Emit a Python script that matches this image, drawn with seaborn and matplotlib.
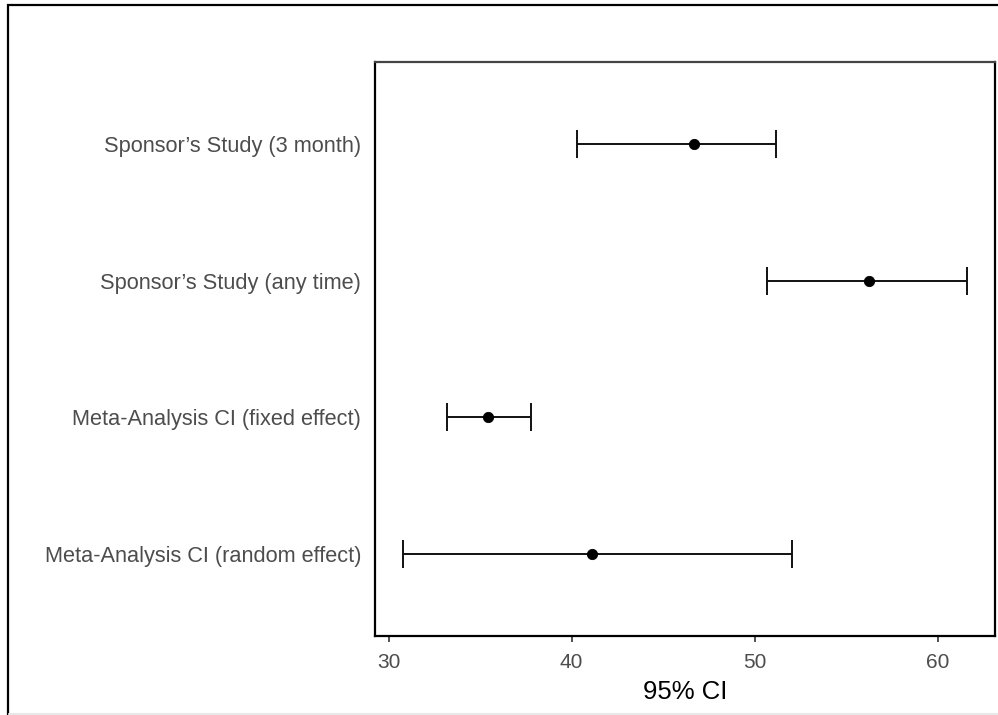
import numpy as np
import pandas as pd
import matplotlib.pyplot as plt
import seaborn as sns
from matplotlib.patches import Rectangle
from matplotlib.lines import Line2D

sns.set_style("white")
plt.rcParams['font.family'] = ['Liberation Sans', 'DejaVu Sans']

# dados (de cima para baixo)
estudos = ["Sponsor\u2019s Study (3 month)",
           "Sponsor\u2019s Study (any time)",
           "Meta-Analysis CI (fixed effect)",
           "Meta-Analysis CI (random effect)"]
estimativa = [46.7, 56.25, 35.45, 41.1]
limite_inf = [40.3, 50.7, 33.2, 30.8]
limite_sup = [51.2, 61.6, 37.8, 52.05]

df = pd.DataFrame({'estudo': estudos,
                   'est': estimativa,
                   'lo': limite_inf,
                   'hi': limite_sup})

fig = plt.figure(figsize=(9.98, 7.15), dpi=100)
ax = fig.add_axes([375/998, 1 - 636/715, (995 - 375)/998, (636 - 62)/715])

ax.errorbar(df['est'], df['estudo'],
            xerr=[df['est'] - df['lo'], df['hi'] - df['est']],
            fmt='none', ecolor='#111111', elinewidth=1.4,
            capsize=10, capthick=1.4, zorder=2)
sns.scatterplot(data=df, x='est', y='estudo', color='black',
                s=55, edgecolor='black', zorder=3, ax=ax)

# escala com expansão de 5% como no ggplot
faixa = max(limite_sup) - min(limite_inf)
ax.set_xlim(min(limite_inf) - 0.05 * faixa, max(limite_sup) + 0.05 * faixa)
ax.set_ylim(len(estudos) - 0.4, -0.6)
ax.set_xticks([30, 40, 50, 60])

ax.set_xlabel('95% CI', fontsize=18.5, color='black', labelpad=6)
ax.set_ylabel('')
ax.tick_params(axis='x', labelsize=15, labelcolor='#4D4D4D',
               length=4, width=1.2, color='#333333', pad=8,
               bottom=True)
ax.tick_params(axis='y', labelsize=15.7, labelcolor='#4D4D4D',
               length=0, pad=10)

for lado in ['left', 'bottom', 'right']:
    ax.spines[lado].set_color('black')
    ax.spines[lado].set_linewidth(1.6)
ax.spines['top'].set_color('#444444')
ax.spines['top'].set_linewidth(1.6)

# moldura externa do print
fig.add_artist(Rectangle((8/998, 0.2/715), 1.2, 1 - 5.5/715 - 0.2/715,
                         transform=fig.transFigure, fill=False,
                         edgecolor='black', linewidth=1.6, clip_on=False))
fig.add_artist(Line2D([9/998, 1], [1.5/715, 1.5/715],
                      transform=fig.transFigure, color='#E8E8E8', linewidth=1.5))

fig.savefig('out.png', dpi=100)
